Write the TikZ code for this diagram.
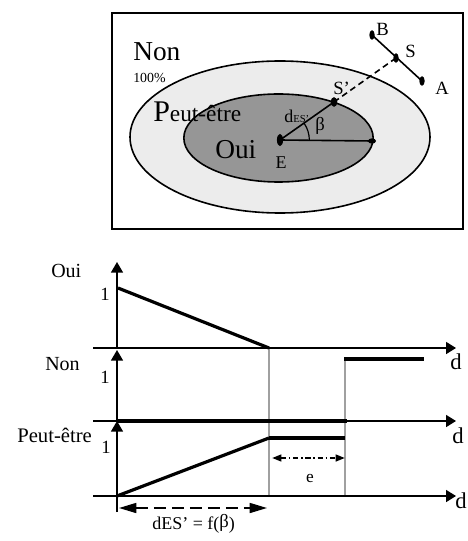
\documentclass[tikz,border=0pt]{standalone}
\usepackage{fontspec}
\setmainfont{Liberation Serif}
\usetikzlibrary{arrows.meta,angles}
\definecolor{lightfill}{RGB}{236,236,236}
\definecolor{darkfill}{RGB}{150,150,150}
\definecolor{guide}{RGB}{160,160,160}
\newcommand{\fs}[1]{\fontsize{#1}{#1}\selectfont}
\tikzset{
  lab/.style={inner sep=0pt, anchor=base west},
  labc/.style={inner sep=0pt, anchor=base},
  border/.style={draw=black, line width=1.3pt},
  axis/.style={line width=1.2pt, -{Triangle[length=7.5pt,width=9pt]}},
  vaxis/.style={line width=1.2pt, -{Triangle[length=8pt,width=9pt]}},
  curve/.style={line width=2.4pt},
  thin guide/.style={draw=guide, line width=0.8pt},
  dotpt/.style={fill=black},
}
\begin{document}
\begin{tikzpicture}[x=0.75pt,y=-0.75pt]
\useasboundingbox (0,0) rectangle (467,541);
% ---------- top box ----------
\draw[border] (112,13) rectangle (463,229);
\draw[fill=lightfill, line width=1.2pt] (280,137) ellipse[x radius=112.5pt, y radius=57pt];
\draw[fill=darkfill, line width=1.2pt] (278.5,138) ellipse[x radius=71pt, y radius=33pt];
\coordinate (E) at (280,140);
\coordinate (R) at (372,141);
\coordinate (Sp) at (334,102);
\coordinate (S) at (396,58);
\coordinate (B) at (372,35);
\coordinate (A) at (422,81);
\draw[line width=1.2pt] (E) -- (R);
\draw[line width=1.2pt] (E) -- (Sp);
\draw[line width=1.2pt] (B) -- (A);
\draw[line width=1.2pt, dash pattern=on 4.5pt off 3pt] (Sp) -- (S);
\pic[draw, line width=0.9pt, angle radius=22pt] {angle = R--E--Sp};
\fill[dotpt] (E) ellipse[x radius=2.3pt, y radius=4.6pt];
\fill[dotpt] (R) ellipse[x radius=3pt, y radius=2pt];
\fill[dotpt] (Sp) ellipse[x radius=2.5pt, y radius=3.6pt];
\fill[dotpt] (S) ellipse[x radius=2pt, y radius=3.6pt];
\fill[dotpt] (B) ellipse[x radius=2pt, y radius=3.6pt];
\fill[dotpt] (A) ellipse[x radius=2pt, y radius=3.6pt];
\node[lab] (tNon) at (133,61) {\fs{20.5pt}Non};
\node[lab] (tPct) at (133,83) {\fs{10.4pt}100\%};
\node[lab] (tPeut) at (153,122) {\fs{22.5pt}P\fs{17.5pt}eut-être};
\node[lab] (tOui) at (215,159) {\fs{20.5pt}Oui};
\node[labc] (tE) at (281,169) {\fs{13.5pt}E};
\node[lab] (tD) at (284,123) {\fs{13.5pt}d\fs{8pt}ES’};
\node[labc] (tBeta) at (320,131) {\fs{14pt}β};
\node[lab] (tSp) at (333,95) {\fs{14pt}S’};
\node[lab] (tS) at (405,58) {\fs{14pt}S};
\node[lab] (tB) at (376,36) {\fs{14pt}B};
\node[lab] (tA) at (435,95) {\fs{14pt}A};
% ---------- charts ----------
\coordinate (O1) at (117,348);
\coordinate (O1top) at (117,262);
\coordinate (O2) at (117,421);
\coordinate (O2top) at (117,350);
\coordinate (O3) at (117,512);
\coordinate (O3top) at (117,421);
\coordinate (H1s) at (93,348);
\coordinate (H1e) at (456,348);
\coordinate (H2s) at (93,421);
\coordinate (H2e) at (456,421);
\coordinate (H3s) at (93,496);
\coordinate (H3e) at (456,496);
\coordinate (P1) at (269,348);
\coordinate (P2) at (345,348);
\coordinate (P1b) at (269,496);
\coordinate (P2t) at (345,359);
\coordinate (P2b) at (345,496);
% gray guides
\draw[thin guide] (P1) -- (P1b);
\draw[thin guide] (P2t) -- (P2b);
% axes
\draw[vaxis] (O1) -- (O1top);
\draw[vaxis] (O2) -- (O2top);
\draw[vaxis] (O3) -- (O3top);
\draw[axis] (H1s) -- (H1e);
\draw[axis] (H2s) -- (H2e);
\draw[axis] (H3s) -- (H3e);
% Oui curve
\coordinate (Oui1) at (118,288);
\coordinate (OuiEnd) at (424,348);
\draw[curve] (Oui1) -- (P1);
\draw[line width=1.8pt] (P1) -- (OuiEnd);
\coordinate (NonA) at (344,359);
\coordinate (NonB) at (424,359);
\draw[line width=3pt] (NonA) -- (NonB);
% Non curve along axis
\coordinate (NonL) at (117,421);
\coordinate (NonR) at (347,421);
\draw[line width=2.6pt] (NonL) -- (NonR);
% Peut-etre curve
\coordinate (Pe0) at (117,496);
\coordinate (Pe1) at (269,438);
\coordinate (Pe2) at (345,438);
\draw[curve] (Pe0) -- (Pe1);
\draw[line width=2.6pt] (Pe1) -- (Pe2);
% e arrow
\coordinate (eL) at (272,458);
\coordinate (eR) at (345,458);
\draw[line width=1.6pt, dash pattern=on 4pt off 2pt on 1.2pt off 2pt,
  {Triangle[length=7pt,width=5pt]}-{Triangle[length=7pt,width=5pt]}] (eL) -- (eR);
% dES' arrow
\coordinate (dL) at (119,508);
\coordinate (dR) at (267,508);
\draw[line width=1.2pt, dash pattern=on 9pt off 4.5pt,
  {Triangle[length=13pt,width=7.5pt]}-{Triangle[length=13pt,width=7.5pt]}] (dL) -- (dR);
% chart labels
\node[lab] (cOui) at (51,277) {\fs{15pt}Oui};
\node[labc] (c1a) at (105,300) {\fs{14pt}1};
\node[lab] (cd1) at (450,369) {\fs{17pt}d};
\node[lab] (cNon) at (45,370) {\fs{15pt}Non};
\node[labc] (c1b) at (105,383) {\fs{14pt}1};
\node[lab] (cd2) at (452,443) {\fs{17pt}d};
\node[lab] (cPeut) at (17,442) {\fs{15.5pt}Peut-être};
\node[labc] (c1c) at (106,453) {\fs{14pt}1};
\node[lab] (cd3) at (455,508) {\fs{17pt}d};
\node[labc] (ce) at (310,482) {\fs{13pt}e};
\node[lab] (cf) at (152,529) {\fs{13.5pt}dES’ = f(\raisebox{1pt}{\fs{14pt}β})};
\end{tikzpicture}
\end{document}
